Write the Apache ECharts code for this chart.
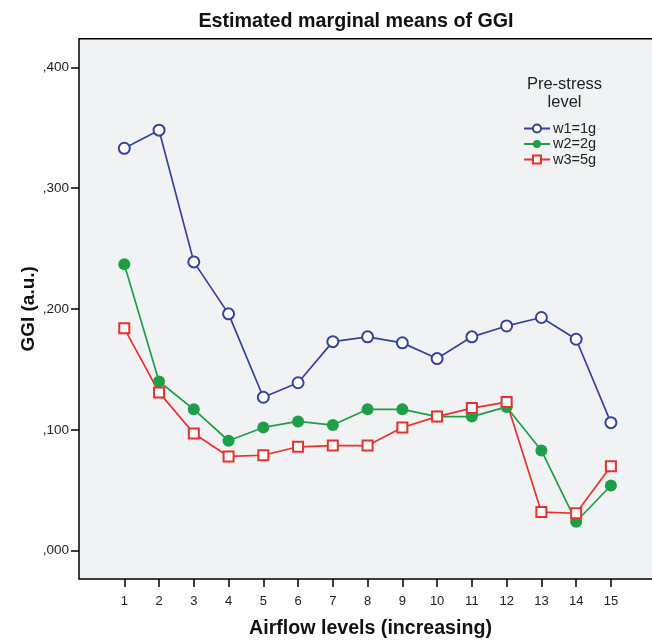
<!DOCTYPE html>
<html>
<head>
<meta charset="utf-8">
<script src="https://cdn.jsdelivr.net/npm/echarts@6/dist/echarts.min.js"></script>
<style>html,body{margin:0;padding:0;background:#fff;}#c{width:652px;height:642px;}</style>
</head>
<body>
<div id="c"></div>
<script>
const levels = [1,2,3,4,5,6,7,8,9,10,11,12,13,14,15];
const w1 = [0.333,0.348,0.239,0.196,0.127,0.139,0.173,0.177,0.172,0.159,0.177,0.186,0.193,0.175,0.106];
const w2 = [0.237,0.140,0.117,0.091,0.102,0.107,0.104,0.117,0.117,0.111,0.111,0.119,0.083,0.024,0.054];
const w3 = [0.184,0.131,0.097,0.078,0.079,0.086,0.087,0.087,0.102,0.111,0.118,0.123,0.032,0.031,0.070];
const yTicks = [0,0.1,0.2,0.3,0.4];
const seriesNames = ['w1=1g','w2=2g','w3=5g'];

const FONT = '"Liberation Sans", Arial, sans-serif';
const pair = arr => levels.map((x,i)=>[x,arr[i]]);
const chart = echarts.init(document.getElementById('c'), null, {renderer:'canvas'});
chart.setOption({
  animation:false,
  backgroundColor:'#ffffff',
  title:[
    {text:'Estimated marginal means of GGI', left:351, top:7, textAlign:'center',
     textStyle:{fontFamily:FONT,fontWeight:'bold',fontSize:19.7,color:'#111'}},
    {text:'Pre-stress\nlevel', left:559.5, top:70, textAlign:'center',
     textStyle:{fontFamily:FONT,fontWeight:'normal',fontSize:16.5,lineHeight:18,color:'#222'}}
  ],
  legend:{
    orient:'vertical', left:518, top:116, itemWidth:26, itemHeight:10, itemGap:0.5,
    data:seriesNames,
    textStyle:{fontFamily:FONT,fontSize:14.5,color:'#222',padding:[0,0,0,-2]}
  },
  grid:{left:79, top:38.7, right:-2, bottom:63, show:true, backgroundColor:'#f0f2f4',
        borderColor:'#000', borderWidth:1.5, containLabel:false, outerBoundsMode:'none'},
  xAxis:{
    type:'value', min:-0.303, max:16.24,
    name:'Airflow levels (increasing)', nameLocation:'middle', nameGap:40, nameMoveOverlap:false,
    nameTextStyle:{fontFamily:FONT,fontWeight:'bold',fontSize:19.6,color:'#111',padding:[0,0,0,8]},
    axisLine:{show:false, onZero:false},
    splitLine:{show:false},
    axisTick:{show:true, length:8, lineStyle:{color:'#000',width:1.5}, customValues:levels},
    axisLabel:{customValues:levels, margin:16, fontFamily:FONT, fontSize:13, color:'#222'}
  },
  yAxis:{
    type:'value', min:-0.0234, max:0.4237,
    name:'GGI (a.u.)', nameLocation:'middle', nameGap:41, nameRotate:90, nameMoveOverlap:false,
    nameTextStyle:{fontFamily:FONT,fontWeight:'bold',fontSize:19,color:'#111'},
    axisLine:{show:false, onZero:false},
    splitLine:{show:false},
    axisTick:{show:true, length:8, lineStyle:{color:'#000',width:1.5}, customValues:yTicks},
    axisLabel:{customValues:yTicks, margin:10, fontFamily:FONT, fontSize:13.5, color:'#222',
      formatter:v=>','+v.toFixed(3).split('.')[1]}
  },
  series:[
    {name:seriesNames[0], type:'line', data:pair(w1), symbol:'emptyCircle', symbolSize:11,
     lineStyle:{color:'#35439c',width:1.7}, itemStyle:{color:'#35439c',borderWidth:1.3}},
    {name:seriesNames[1], type:'line', data:pair(w2), symbol:'circle', symbolSize:12,
     lineStyle:{color:'#1f9e48',width:1.7}, itemStyle:{color:'#1f9e48'}},
    {name:seriesNames[2], type:'line', data:pair(w3), symbol:'emptyRect', symbolSize:10,
     lineStyle:{color:'#e8302c',width:1.7}, itemStyle:{color:'#e8302c',borderWidth:1.3}}
  ]
});
</script>
</body>
</html>
